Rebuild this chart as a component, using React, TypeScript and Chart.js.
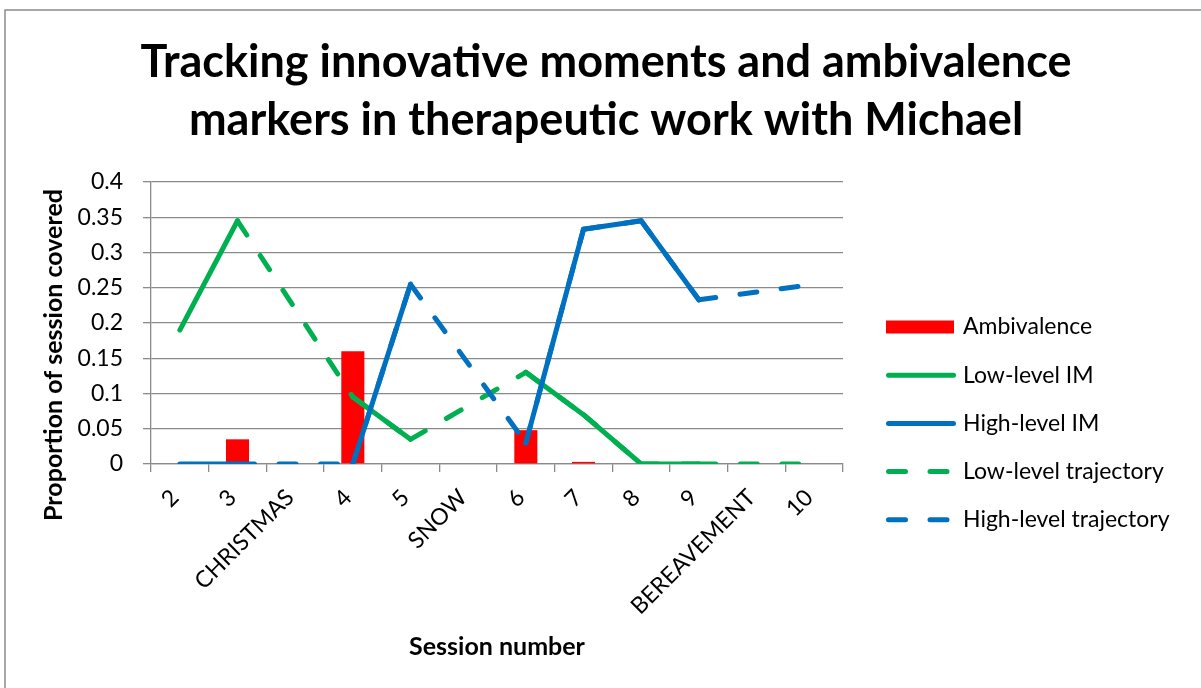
import React, { useEffect, useRef } from 'react';
import { Chart, registerables } from 'chart.js';

Chart.register(...registerables);

const CATEGORIES = ['2', '3', 'CHRISTMAS', '4', '5', 'SNOW', '6', '7', '8', '9', 'BEREAVEMENT', '10'];
const AMBIVALENCE = [0, 0.035, null, 0.16, 0, null, 0.048, 0.003, 0, 0, null, 0];
const LOW_IM = [0.19, 0.345, null, 0.095, 0.035, null, 0.13, 0.07, 0, 0, null, null];
const HIGH_IM = [0, 0, null, 0, 0.255, null, 0.03, 0.333, 0.345, 0.233, null, null];
const LOW_TRAJ = [null, 0.345, null, 0.095, 0.035, null, 0.13, 0.07, 0, 0, null, 0];
const HIGH_TRAJ = [null, 0, null, 0, 0.255, null, 0.03, 0.333, 0.345, 0.233, null, 0.255];
const Y_TICKS = [0, 0.05, 0.1, 0.15, 0.2, 0.25, 0.3, 0.35, 0.4];
const TITLE_LINES = ['Tracking innovative moments and ambivalence', 'markers in therapeutic work with Michael'];
const X_TITLE = 'Session number';
const Y_TITLE = 'Proportion of session covered';

const FONT = 'Lato, "Open Sans", sans-serif';
const RED = '#FF0000';
const GREEN = '#00B050';
const BLUE = '#0070C0';
const GRID = '#8a8a8a';
const DASH = [17, 24.5];

const decorPlugin = {
  id: 'decor',
  beforeDraw(chart: any) {
    const { ctx, width, height } = chart;
    ctx.save();
    ctx.fillStyle = '#ffffff';
    ctx.fillRect(0, 0, width, height);
    ctx.strokeStyle = '#8c8c8c';
    ctx.lineWidth = 1.5;
    ctx.strokeRect(5, 10, width + 100, height + 100);
    ctx.restore();
  },
  afterDraw(chart: any) {
    const { ctx, chartArea } = chart;
    ctx.save();
    ctx.fillStyle = '#000';
    ctx.textAlign = 'center';
    ctx.textBaseline = 'alphabetic';
    ctx.font = `bold 45px ${FONT}`;
    ctx.fillText(TITLE_LINES[0], 606, 77);
    ctx.fillText(TITLE_LINES[1], 606, 135);

    ctx.font = `bold 25px ${FONT}`;
    ctx.fillText(X_TITLE, (chartArea.left + chartArea.right) / 2, 655);

    ctx.save();
    ctx.translate(62, 355);
    ctx.rotate(-Math.PI / 2);
    ctx.fillText(Y_TITLE, 0, 0);
    ctx.restore();

    // legend
    ctx.textAlign = 'left';
    ctx.textBaseline = 'middle';
    ctx.font = `23px ${FONT}`;
    const datasets = chart.data.datasets;
    datasets.forEach((ds: any, i: number) => {
      const y = 327 + i * 48.2;
      if (ds.type === 'bar') {
        ctx.fillStyle = ds.backgroundColor;
        ctx.fillRect(886, y - 6.5, 68, 13);
      } else {
        ctx.save();
        ctx.strokeStyle = ds.borderColor;
        ctx.lineWidth = ds.borderWidth;
        ctx.lineCap = 'round';
        ctx.setLineDash(ds.borderDash || []);
        ctx.beginPath();
        ctx.moveTo(888.5, y);
        ctx.lineTo(953.5, y);
        ctx.stroke();
        ctx.restore();
      }
      ctx.fillStyle = '#000';
      ctx.fillText(ds.label, 963, y);
    });
    ctx.restore();
  },
};

export default function App() {
  const ref = useRef<HTMLCanvasElement | null>(null);

  useEffect(() => {
    if (!ref.current) return;
    const lineBase = {
      type: 'line' as const,
      borderWidth: 5,
      pointRadius: 0,
      pointHoverRadius: 0,
      tension: 0,
      fill: false,
      borderCapStyle: 'round' as const,
      borderJoinStyle: 'round' as const,
    };
    const chart = new Chart(ref.current, {
      type: 'bar',
      data: {
        labels: CATEGORIES,
        datasets: [
          {
            type: 'bar',
            label: 'Ambivalence',
            data: AMBIVALENCE,
            backgroundColor: RED,
            barPercentage: 0.4,
            categoryPercentage: 1,
            order: 5,
          } as any,
          { ...lineBase, label: 'Low-level IM', data: LOW_IM, borderColor: GREEN, spanGaps: false, order: 2 },
          { ...lineBase, label: 'High-level IM', data: HIGH_IM, borderColor: BLUE, spanGaps: false, order: 1 },
          {
            ...lineBase,
            label: 'Low-level trajectory',
            data: LOW_TRAJ,
            borderColor: GREEN,
            borderDash: DASH,
            spanGaps: true,
            order: 4,
            segment: { borderDashOffset: (c: any) => c.p0DataIndex * 0.0001 },
          },
          {
            ...lineBase,
            label: 'High-level trajectory',
            data: HIGH_TRAJ,
            borderColor: BLUE,
            borderDash: DASH,
            spanGaps: true,
            order: 3,
            segment: { borderDashOffset: (c: any) => c.p0DataIndex * 0.0001 },
          },
        ],
      },
      options: {
        responsive: false,
        animation: false,
        events: [],
        layout: { padding: { top: 182, right: 358, bottom: 0, left: 0 } },
        plugins: {
          legend: { display: false },
          tooltip: { enabled: false },
          title: { display: false },
        },
        scales: {
          x: {
            offset: true,
            grid: {
              display: true,
              drawOnChartArea: false,
              drawTicks: true,
              tickLength: 8,
              offset: true,
              color: GRID,
              lineWidth: 1.3,
            },
            border: { display: true, color: GRID, width: 1.3 },
            ticks: {
              autoSkip: false,
              minRotation: 45,
              maxRotation: 45,
              padding: 12,
              labelOffset: -5,
              color: '#000',
              font: { family: FONT, size: 23 },
            },
            afterFit: (s: any) => {
              s.height = 224;
            },
          },
          y: {
            min: 0,
            max: 0.4,
            afterBuildTicks: (s: any) => {
              s.ticks = Y_TICKS.map((v) => ({ value: v }));
            },
            grid: { color: GRID, lineWidth: 1.3, tickLength: 8, drawTicks: true },
            border: { display: true, color: GRID, width: 1.3 },
            ticks: {
              padding: 20,
              color: '#000',
              font: { family: FONT, size: 23 },
              callback: (v: any) => String(v),
            },
            afterFit: (s: any) => {
              s.width = 151;
            },
          },
        },
      },
      plugins: [decorPlugin],
    } as any);
    return () => chart.destroy();
  }, []);

  return (
    <div style={{ position: 'absolute', left: 0, top: 0, width: 1201, height: 688, overflow: 'hidden' }}>
      <canvas ref={ref} width={1201} height={688} style={{ display: 'block', width: 1201, height: 688 }} />
    </div>
  );
}
